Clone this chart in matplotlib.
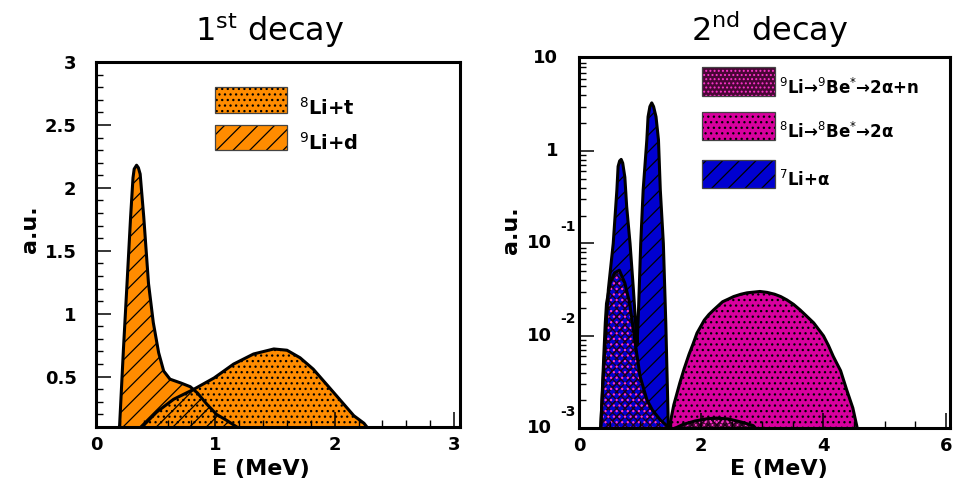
import matplotlib
matplotlib.use("Agg")
import matplotlib.pyplot as plt
from matplotlib.ticker import MultipleLocator, FixedLocator, NullFormatter, LogLocator
from matplotlib.patches import Rectangle
import matplotlib.transforms as mtransforms

plt.rcParams['font.family'] = ['DejaVu Sans']
plt.rcParams['mathtext.fontset'] = 'dejavusans'
plt.rcParams['hatch.linewidth'] = 0.9

# ---------------- data ----------------
# 1st decay (linear scale)
li9d_x = [0.18, 0.198, 0.23, 0.26, 0.29, 0.31, 0.32, 0.34, 0.355, 0.37, 0.40, 0.44, 0.48, 0.525,
          0.567, 0.62, 0.71, 0.79, 0.85, 0.93, 1.01, 1.10, 1.18, 1.22]
li9d_y = [0.0, 0.116, 0.72, 1.24, 1.77, 2.08, 2.15, 2.18, 2.16, 2.11, 1.77, 1.24, 0.93, 0.69,
          0.545, 0.48, 0.45, 0.42, 0.37, 0.28, 0.20, 0.15, 0.10, 0.08]
li8t_x = [0.36, 0.385, 0.51, 0.65, 0.82, 0.99, 1.153, 1.32, 1.49, 1.60, 1.71, 1.82, 1.94,
          2.05, 2.16, 2.245, 2.27, 2.30]
li8t_y = [0.05, 0.10, 0.22, 0.32, 0.40, 0.49, 0.60, 0.68, 0.72, 0.71, 0.65, 0.56, 0.43,
          0.31, 0.19, 0.13, 0.10, 0.08]

# 2nd decay (log scale)
li9n_x = [0.34, 0.36, 0.40, 0.43, 0.45, 0.51, 0.58, 0.66, 0.75, 0.83, 0.92, 1.00, 1.11, 1.20,
          1.33, 1.45, 1.50, 1.70, 1.90, 2.10, 2.25, 2.45, 2.65, 2.85, 2.96]
li9n_y = [0.0005, 0.00112, 0.005, 0.0138, 0.0224, 0.0372, 0.0479, 0.0513, 0.0372, 0.0224,
          0.0083, 0.00363, 0.00204, 0.00158, 0.00123, 0.00105, 0.00095, 0.0011, 0.0012,
          0.00127, 0.00129, 0.00126, 0.00117, 0.00107, 0.00089]
li8a_x = [1.46, 1.55, 1.65, 1.72, 1.80, 1.87, 1.93, 2.05, 2.125, 2.20, 2.35, 2.45, 2.53, 2.65,
          2.75, 2.96, 3.08, 3.20, 3.30, 3.40, 3.51, 3.62, 3.73, 3.84, 4.00, 4.08, 4.16, 4.28,
          4.38, 4.48, 4.57]
li8a_y = [0.00089, 0.00178, 0.0031, 0.0044, 0.0063, 0.0083, 0.0107, 0.0148, 0.017, 0.019,
          0.0234, 0.0251, 0.0266, 0.0282, 0.0292, 0.0302, 0.0295, 0.0282, 0.0266, 0.0245,
          0.0219, 0.019, 0.0162, 0.0138, 0.01, 0.0079, 0.006, 0.0042, 0.0026, 0.00166, 0.00089]
li7a_x = [0.33, 0.40, 0.48, 0.56, 0.62, 0.64, 0.665, 0.69, 0.715, 0.75, 0.78, 0.835, 0.89,
          0.92, 0.95, 0.975, 1.01, 1.05, 1.11, 1.13, 1.16, 1.19, 1.22, 1.26, 1.30, 1.33, 1.38,
          1.42, 1.46, 1.48]
li7a_y = [0.0005, 0.004, 0.0316, 0.1, 0.38, 0.68, 0.78, 0.81, 0.74, 0.52, 0.25, 0.1, 0.0316,
          0.0158, 0.0079, 0.02, 0.1, 0.38, 1.32, 2.34, 3.02, 3.31, 3.02, 2.34, 1.32, 0.38, 0.1,
          0.0138, 0.00115, 0.0005]

left_titles = ['$^{8}$Li+t', '$^{9}$Li+d']
right_titles = ['$^{9}$Li\u2192$^{9}$Be$^{*}$\u21922\u03b1+n',
                '$^{8}$Li\u2192$^{8}$Be$^{*}$\u21922\u03b1',
                '$^{7}$Li+\u03b1']
y_ticks_left = [0.5, 1, 1.5, 2, 2.5, 3]
y_ticklabels_left = ['0.5', '1', '1.5', '2', '2.5', '3']
x_ticks_left = [0, 1, 2, 3]
x_ticks_right = [0, 2, 4, 6]
log_ticks = [10, 1, 0.1, 0.01, 0.001]
log_bases = ['10', '1', '10', '10', '10']
log_exps = ['', '', '-1', '-2', '-3']

ORANGE = '#FF8C00'
MAGENTA = '#D8009E'
DARKMAG = '#4A0636'
PINKDOT = '#FF33CC'
BLUE = '#0000D0'

W, H = 965, 482
fig = plt.figure(figsize=(9.65, 4.82), dpi=100)
fig.patch.set_facecolor('white')

def fx(px):
    return px / W

def fy(py):
    return 1 - py / H

axL = fig.add_axes([fx(96), fy(427), fx(460) - fx(96), fy(62) - fy(427)])
axR = fig.add_axes([fx(579), fy(428.3), fx(950) - fx(579), fy(57.3) - fy(428.3)])

OUT_LW = 2.2
TICKFONT = dict(fontsize=13, fontweight='bold')

# ---------- left panel ----------
axL.fill_between(li9d_x, li9d_y, 0, facecolor=ORANGE, lw=0, zorder=1)
axL.fill_between(li8t_x, li8t_y, 0, facecolor=ORANGE, lw=0, zorder=1)
axL.fill_between(li8t_x, li8t_y, 0, facecolor='none', edgecolor='black', hatch='...', lw=0, zorder=1.1)
axL.fill_between(li9d_x, li9d_y, 0, facecolor='none', edgecolor='black', hatch='//', lw=0, zorder=1.1)
axL.plot(li9d_x, li9d_y, color='black', lw=OUT_LW, solid_joinstyle='round', zorder=3)
axL.plot(li8t_x, li8t_y, color='black', lw=OUT_LW, solid_joinstyle='round', zorder=3)
axL.set_xlim(0, 3.05)
axL.set_ylim(0.1, 3)
axL.yaxis.set_major_locator(FixedLocator(y_ticks_left))
axL.set_yticklabels(y_ticklabels_left, **TICKFONT)
axL.yaxis.set_minor_locator(MultipleLocator(0.1))
axL.xaxis.set_major_locator(FixedLocator(x_ticks_left))
axL.set_xticklabels([str(v) for v in x_ticks_left], **TICKFONT)
axL.xaxis.set_minor_locator(MultipleLocator(0.2))
axL.tick_params(which='major', direction='in', length=10.5, width=1.1, pad=14)
axL.tick_params(axis='x', which='major', pad=6.5)
axL.tick_params(which='minor', direction='in', length=5, width=1.0)

# ---------- right panel ----------
axR.set_yscale('log')
floor = 1e-5
axR.fill_between(li8a_x, li8a_y, floor, facecolor=MAGENTA, edgecolor='black', hatch='...', lw=0, zorder=1)
axR.fill_between(li9n_x, li9n_y, floor, facecolor=DARKMAG, edgecolor=PINKDOT, hatch='....', lw=0, zorder=1.05)
axR.fill_between(li7a_x, li7a_y, floor, facecolor=BLUE, edgecolor='black', hatch='//', lw=0, zorder=1.1)
axR.fill_between(li9n_x, li9n_y, floor, facecolor='none', edgecolor='#200018', hatch='xxxx', lw=0, zorder=1.2)
axR.fill_between(li9n_x, li9n_y, floor, facecolor='none', edgecolor=PINKDOT, hatch='...', lw=0, zorder=1.25)
axR.plot(li8a_x, li8a_y, color='black', lw=OUT_LW, solid_joinstyle='round', zorder=3)
axR.plot(li7a_x, li7a_y, color='black', lw=OUT_LW, solid_joinstyle='round', zorder=3)
axR.plot(li9n_x, li9n_y, color='black', lw=OUT_LW, solid_joinstyle='round', zorder=3)
axR.set_xlim(0, 6.07)
axR.set_ylim(1e-3, 10.3)
axR.xaxis.set_major_locator(FixedLocator(x_ticks_right))
axR.set_xticklabels([str(v) for v in x_ticks_right], **TICKFONT)
axR.xaxis.set_minor_locator(MultipleLocator(0.5))
axR.yaxis.set_major_locator(FixedLocator(log_ticks))
axR.yaxis.set_minor_locator(LogLocator(base=10, subs=range(2, 10)))
axR.yaxis.set_major_formatter(NullFormatter())
axR.yaxis.set_minor_formatter(NullFormatter())
axR.tick_params(which='major', direction='in', length=10.5, width=1.1)
axR.tick_params(axis='x', which='major', pad=6.5)
axR.tick_params(which='minor', direction='in', length=5, width=1.0)

# log-axis labels in ROOT style
trans = mtransforms.blended_transform_factory(fig.transFigure, axR.transData)
for v, b, e in zip(log_ticks, log_bases, log_exps):
    xr = 558 if v >= 1 else 552
    axR.text(fx(xr), v, b, transform=trans, ha='right', va='center', clip_on=False, **TICKFONT)
    if e:
        off = mtransforms.offset_copy(trans, fig=fig, x=0, y=12, units='points')
        axR.text(fx(560), v, e, transform=off, ha='left', va='center', clip_on=False,
                 fontsize=10, fontweight='bold')

for ax in (axL, axR):
    for s in ax.spines.values():
        s.set_linewidth(2.2)

# ---------- axis titles ----------
fig.text(fx(30), fy(229), 'a.u.', rotation=90, ha='center', va='center', fontsize=16, fontweight='bold')
fig.text(fx(511), fy(230), 'a.u.', rotation=90, ha='center', va='center', fontsize=16, fontweight='bold')
fig.text(fx(261), fy(469), 'E (MeV)', ha='center', va='center', fontsize=16, fontweight='bold')
fig.text(fx(779), fy(469), 'E (MeV)', ha='center', va='center', fontsize=16, fontweight='bold')

fig.text(fx(270), fy(30), r'1$^{\mathrm{st}}$ decay', ha='center', va='center', fontsize=23)
fig.text(fx(770), fy(30), r'2$^{\mathrm{nd}}$ decay', ha='center', va='center', fontsize=23)

# ---------- legends ----------
def legend_box(x0, y0, x1, y1, face, hatch, hatch_color='black'):
    r = Rectangle((fx(x0), fy(y1)), fx(x1) - fx(x0), fy(y0) - fy(y1), transform=fig.transFigure,
                  facecolor=face, edgecolor=hatch_color, hatch=hatch, lw=0)
    fig.add_artist(r)
    b = Rectangle((fx(x0), fy(y1)), fx(x1) - fx(x0), fy(y0) - fy(y1), transform=fig.transFigure,
                  facecolor='none', edgecolor='#444444', lw=0.9)
    fig.add_artist(b)

legend_box(215, 87, 287, 113, ORANGE, '...')
legend_box(215, 125, 287, 150, ORANGE, '//')
fig.text(fx(299), fy(114.5), left_titles[0], ha='left', va='baseline', fontsize=14, fontweight='bold')
fig.text(fx(299), fy(150), left_titles[1], ha='left', va='baseline', fontsize=14, fontweight='bold')

legend_box(702, 67, 775, 96, DARKMAG, '....', hatch_color=PINKDOT)
legend_box(702, 112, 775, 140, MAGENTA, '...')
legend_box(702, 160, 775, 188, BLUE, '//')
fig.text(fx(779), fy(94.3), right_titles[0], ha='left', va='baseline', fontsize=12, fontweight='bold')
fig.text(fx(779), fy(138.3), right_titles[1], ha='left', va='baseline', fontsize=12, fontweight='bold')
fig.text(fx(779), fy(185.7), right_titles[2], ha='left', va='baseline', fontsize=12, fontweight='bold')

fig.savefig('out.png', dpi=100)
